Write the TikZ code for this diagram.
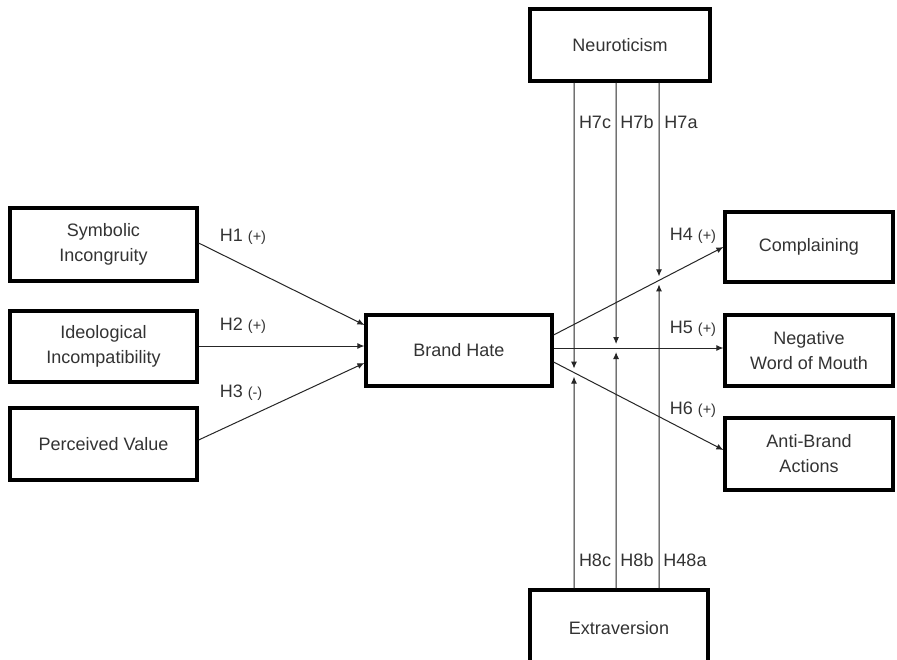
\documentclass[tikz,border=0pt]{standalone}
\usepackage{fontspec}
\setmainfont{Liberation Sans}
\usetikzlibrary{arrows.meta,calc}
\newcommand\smp{\fontsize{14.5}{16}\selectfont}
\begin{document}
\begin{tikzpicture}[x=1pt,y=-1pt,
  box/.style={draw=black,line width=3.2pt,minimum width=#1,inner sep=0pt,align=center,font=\fontsize{18}{25}\selectfont,text=black!80},
  conn/.style={line width=1pt,draw=black!85,-{Latex[length=7pt,width=6pt]}},
  vline/.style={line width=1pt,draw=black!85,-{Latex[length=7pt,width=6pt]},shorten >=4pt},
  lab/.style={font=\fontsize{18}{20}\selectfont,text=black!80,inner sep=1pt}]
\useasboundingbox (0,0) rectangle (897,659);
\clip (0,0) rectangle (897,659);
\fill[white] (0,0) rectangle (897,659);
% boxes
\node[box=187pt,minimum height=73pt] (sym) at (103.5,244.5) {Symbolic\\Incongruity};
\node[box=187pt,minimum height=71pt] (ide) at (103.5,346.5) {Ideological\\Incompatibility};
\node[box=187pt,minimum height=72pt] (per) at (103.5,444) {Perceived Value};
\node[box=186pt,minimum height=71pt] (bh) at (459,350.5) {Brand Hate};
\node[box=168pt,minimum height=70pt] (com) at (809,247) {Complaining};
\node[box=168pt,minimum height=71pt] (nwm) at (809,350.5) {Negative\\Word of Mouth};
\node[box=168pt,minimum height=72pt] (abr) at (809,454) {Anti-Brand\\Actions};
\node[box=180pt,minimum height=72pt] (neu) at (620,45) {Neuroticism};
\node[box=178pt,minimum height=76pt] (ext) at (619,628) {Extraversion};
% anchor coordinates
\coordinate (s1) at (sym.east |- 0,243);
\coordinate (e1) at (bh.west |- 0,325);
\coordinate (s2) at (ide.east |- 0,346);
\coordinate (e2) at (bh.west |- 0,346);
\coordinate (s3) at (per.east |- 0,440);
\coordinate (e3) at (bh.west |- 0,363);
\coordinate (s4) at (bh.east |- 0,335);
\coordinate (e4) at (com.west |- 0,247);
\coordinate (s5) at (bh.east |- 0,348);
\coordinate (e5) at (nwm.west |- 0,348);
\coordinate (s6) at (bh.east |- 0,362);
\coordinate (e6) at (abr.west |- 0,450);
% hypotheses arrows
\draw[conn] (s1) -- (e1);
\draw[conn] (s2) -- (e2);
\draw[conn] (s3) -- (e3);
\draw[conn] (s4) -- (e4);
\draw[conn] (s5) -- (e5);
\draw[conn] (s6) -- (e6);
% vertical moderators
\coordinate (vc) at (574,0);
\coordinate (vb) at (616,0);
\coordinate (va) at (659,0);
\coordinate (wc) at (574,659);
\coordinate (wb) at (616,659);
\coordinate (wa) at (659,659);
\coordinate (ic) at (intersection of s6--e6 and vc--wc);
\coordinate (ib) at (intersection of s5--e5 and vb--wb);
\coordinate (ia) at (intersection of s4--e4 and va--wa);
\draw[vline] (neu.south -| vc) -- (ic);
\draw[vline] (neu.south -| vb) -- (ib);
\draw[vline] (neu.south -| va) -- (ia);
\draw[vline] (ext.north -| vc) -- (ic);
\draw[vline] (ext.north -| vb) -- (ib);
\draw[vline] (ext.north -| va) -- (ia);
% labels
\node[lab] (l1) at (243,237) {H1 {\smp(+)}};
\node[lab] (l2) at (243,326) {H2 {\smp(+)}};
\node[lab] (l3) at (241,393) {H3 {\smp(-)}};
\node[lab] (l4) at (693,236) {H4 {\smp(+)}};
\node[lab] (l5) at (693,329) {H5 {\smp(+)}};
\node[lab] (l6) at (693,410) {H6 {\smp(+)}};
\node[lab] (l7c) at (595,122) {H7c};
\node[lab] (l7b) at (637,122) {H7b};
\node[lab] (l7a) at (681,122) {H7a};
\node[lab] (l8c) at (595,560) {H8c};
\node[lab] (l8b) at (637,560) {H8b};
\node[lab] (l8a) at (685,560) {H48a};
\end{tikzpicture}
\end{document}
